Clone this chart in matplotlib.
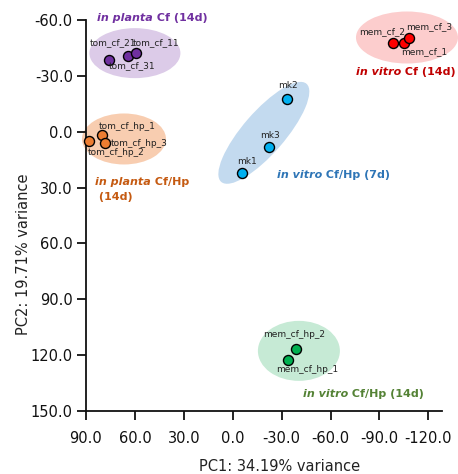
import matplotlib
matplotlib.use('Agg')
import matplotlib.pyplot as plt
from matplotlib.patches import Ellipse
from matplotlib.transforms import ScaledTranslation

plt.rcParams['font.family'] = ['DejaVu Sans']

# ---------------- data ----------------
planta_cf_names = ['tom_cf_31', 'tom_cf_21', 'tom_cf_11']
planta_cf_pc1 = [75.8, 64.1, 59.4]
planta_cf_pc2 = [-38.5, -40.8, -42.4]

vitro_cf_names = ['mem_cf_2', 'mem_cf_1', 'mem_cf_3']
vitro_cf_pc1 = [-98.5, -105.0, -108.1]
vitro_cf_pc2 = [-47.4, -47.8, -50.1]

planta_hp_names = ['tom_cf_hp_2', 'tom_cf_hp_1', 'tom_cf_hp_3']
planta_hp_pc1 = [88.0, 80.4, 78.4]
planta_hp_pc2 = [5.0, 1.9, 5.9]

vitro_hp7_names = ['mk2', 'mk3', 'mk1']
vitro_hp7_pc1 = [-33.4, -22.2, -5.8]
vitro_hp7_pc2 = [-17.8, 8.2, 22.0]

vitro_hp14_names = ['mem_cf_hp_2', 'mem_cf_hp_1']
vitro_hp14_pc1 = [-38.8, -33.7]
vitro_hp14_pc2 = [116.5, 122.7]

x_ticks = [90, 60, 30, 0, -30, -60, -90, -120]
y_ticks = [-60, -30, 0, 30, 60, 90, 120, 150]
x_label = 'PC1: 34.19% variance'
y_label = 'PC2: 19.71% variance'

# ---------------- styles ----------------
groups = [
    dict(names=planta_cf_names, x=planta_cf_pc1, y=planta_cf_pc2,
         color='#7030A0', fill='#DCCBE8', tcolor='#7030A0',
         ell=(60.0, -42.2, 91, 50, 0),
         offs=[(22.7, 6), (-15, -12.7), (20, -9.7)],
         title=('in planta', ' Cf (14d)', None), tpos=(83.3, -61.1)),
    dict(names=vitro_cf_names, x=vitro_cf_pc1, y=vitro_cf_pc2,
         color='#FF0000', fill='#FCCDCD', tcolor='#C00000',
         ell=(-106.9, -50.6, 102, 52, 0),
         offs=[(-11, -11.6), (20.3, 9), (20.7, -12.3)],
         title=('in vitro', ' Cf (14d)', None), tpos=(-75.4, -32.0)),
    dict(names=planta_hp_names, x=planta_hp_pc1, y=planta_hp_pc2,
         color='#ED7D31', fill='#F8CDB0', tcolor='#C55A11',
         ell=(66.7, 3.9, 84, 51, 0),
         offs=[(26.5, 11.6), (26, -9), (34, 1)],
         title=('in planta', ' Cf/Hp', ' (14d)'), tpos=(84.5, 27.1)),
    dict(names=vitro_hp7_names, x=vitro_hp7_pc1, y=vitro_hp7_pc2,
         color='#00B0F0', fill='#C3DAEF', tcolor='#2E75B6',
         ell=(-19.1, 0.6, 130, 42, 49),
         offs=[(1, -13.3), (1, -11), (5, -11.3)],
         title=('in vitro', ' Cf/Hp (7d)', None), tpos=(-26.9, 23.5)),
    dict(names=vitro_hp14_names, x=vitro_hp14_pc1, y=vitro_hp14_pc2,
         color='#00B050', fill='#C6EAD5', tcolor='#548235',
         ell=(-40.6, 117.7, 82, 60, 0),
         offs=[(-1.5, -13.7), (19.5, 9)],
         title=('in vitro', ' Cf/Hp (14d)', None), tpos=(-43.1, 140.7)),
]

TFS = 8.0

fig = plt.figure(figsize=(4.58, 4.74), dpi=100)
ax = fig.add_axes([86 / 458, 63 / 474, 355.7 / 458, 391 / 474])
ax.set_xlim(90, -128.2)
ax.set_ylim(150, -60)

for g in groups:
    cx, cy, w, h, ang = g['ell']
    trans = fig.dpi_scale_trans + ScaledTranslation(cx, cy, ax.transData)
    e = Ellipse((0, 0), w / 100, h / 100, angle=ang, transform=trans,
                facecolor=g['fill'], edgecolor='none', zorder=1, clip_on=False)
    ax.add_patch(e)
    ax.scatter(g['x'], g['y'], s=52, c=g['color'], edgecolors='black',
               linewidths=1.0, zorder=3, clip_on=False)
    for name, xv, yv, (dx, dy) in zip(g['names'], g['x'], g['y'], g['offs']):
        ax.annotate(name, (xv, yv), xytext=(dx * 0.72, -dy * 0.72),
                    textcoords='offset points', ha='center', va='center',
                    fontsize=6.5, color='#222222', zorder=4)
    tx, ty = g['tpos']
    it, rest, line2 = g['title']
    t1 = ax.text(tx, ty, it, fontsize=TFS, fontweight='bold', fontstyle='italic',
                 color=g['tcolor'], ha='left', va='center', zorder=5)
    ax.annotate(rest, xy=(1, 0), xycoords=t1, ha='left', va='bottom',
                fontsize=TFS, fontweight='bold', color=g['tcolor'], zorder=5)
    if line2:
        ax.annotate(line2, xy=(0, 0), xycoords=t1, xytext=(0, -11),
                    textcoords='offset points', ha='left', va='bottom',
                    fontsize=TFS, fontweight='bold', color=g['tcolor'], zorder=5)

for s in ['top', 'right']:
    ax.spines[s].set_visible(False)
for s in ['left', 'bottom']:
    ax.spines[s].set_linewidth(1.3)
    ax.spines[s].set_color('#111111')

ax.set_xticks(x_ticks)
ax.set_yticks(y_ticks)
ax.set_xticklabels([f'{v:.1f}' for v in x_ticks])
ax.set_yticklabels([f'{v:.1f}' for v in y_ticks])
ax.tick_params(axis='both', length=6.5, width=1.3, labelsize=10.5,
               colors='#111111', direction='out')
ax.tick_params(axis='x', pad=8)
ax.tick_params(axis='y', pad=3)

ax.set_xlabel(x_label, fontsize=10.5, color='#222222')
ax.xaxis.set_label_coords(0.545, (411 - 466.7) / 391)
ax.xaxis.label.set_va('center')
ax.set_ylabel(y_label, fontsize=10.5, color='#222222')
ax.yaxis.set_label_coords((23.3 - 86) / 355.7, 0.40)
ax.yaxis.label.set_va('center')

fig.savefig('out.png', dpi=100)
